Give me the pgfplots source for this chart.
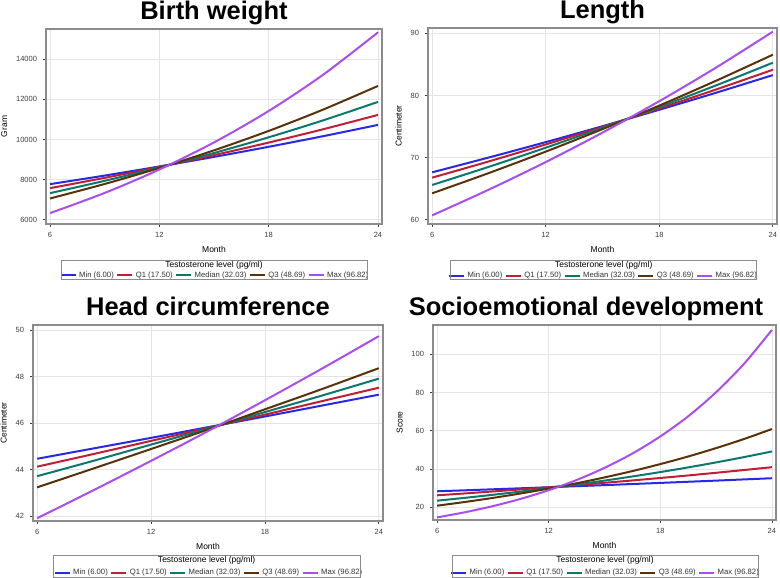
\documentclass[border=0pt]{standalone}
\usepackage{fontspec}
\setmainfont{Liberation Sans}
\usepackage{pgfplots}
\usepackage{pgfplotstable}
\pgfplotsset{compat=1.18}

\definecolor{cMin}{RGB}{40,40,232}
\definecolor{cQone}{RGB}{192,30,52}
\definecolor{cMed}{RGB}{10,120,108}
\definecolor{cQthree}{RGB}{90,50,10}
\definecolor{cMax}{RGB}{168,78,240}
\definecolor{frameGray}{RGB}{140,140,140}
\definecolor{gridGray}{RGB}{228,228,228}
\definecolor{tickGray}{RGB}{60,60,60}

\pgfplotstableread{
month min q1 med q3 max
6  7776  7577  7328  7062  6332
9  8204  8090  7942  7785  7338
12 8657  8638  8608  8582  8505
15 9134  9224  9329  9461  9857
18 9638  9848  10111 10429 11423
21 10169 10515 10959 11497 13238
24 10730 11228 11876 12672 15344
}\bw

\pgfplotstableread{
month min q1 med q3 max
6  67.63 66.77 65.59 64.25 60.70
9  70.02 69.39 68.52 67.52 64.85
12 72.49 72.12 71.59 70.96 69.28
15 75.05 74.95 74.79 74.58 74.02
18 77.70 77.90 78.13 78.37 79.08
21 80.44 80.96 81.62 82.37 84.49
24 83.28 84.14 85.27 86.56 90.27
}\len

\pgfplotstableread{
month min q1 med q3 max
6  44.46 44.12 43.71 43.23 41.90
9  44.91 44.67 44.38 44.05 43.12
12 45.36 45.23 45.07 44.88 44.37
15 45.82 45.79 45.76 45.72 45.65
18 46.28 46.36 46.47 46.59 46.98
21 46.75 46.94 47.18 47.46 48.34
24 47.22 47.52 47.91 48.36 49.74
}\head

\pgfplotstableread{
month min q1 med q3 max
6    28.25 26.14 23.33 20.70 14.56
7.5  28.76 27.13 24.82 22.65 17.27
9    29.29 28.16 26.41 24.78 20.48
10.5 29.82 29.23 28.10 27.11 24.29
12   30.37 30.34 29.90 29.66 28.81
13.5 30.92 31.49 31.82 32.45 34.16
15   31.48 32.69 33.85 35.51 40.52
16.5 32.06 33.93 36.02 38.84 48.05
18   32.64 35.22 38.32 42.50 57.00
19.5 33.24 36.55 40.77 46.49 67.57
21   33.84 37.95 43.38 50.88 80.18
22.5 34.47 39.39 46.16 55.64 95.05
24   35.09 40.88 49.12 60.88 112.80
}\soc

\pgfplotsset{
  panel/.style={
    anchor=south west,
    scale only axis,
    xmin=5.78, xmax=24.22,
    xtick={6,12,18,24},
    grid=major,
    grid style={color=gridGray, line width=0.7pt},
    axis line style={color=frameGray, line width=1.3pt},
    tick style={color=tickGray, line width=0.7pt},
    tick align=outside, tick pos=left,
    major tick length=3pt,
    /pgf/number format/assume math mode=true,
    /pgf/number format/1000 sep={},
    scaled ticks=false,
    ticklabel style={font=\fontsize{7.5}{9}\selectfont, color=tickGray},
    xticklabel style={yshift=-2pt},
    yticklabel style={xshift=-2.5pt},
    xlabel={Month},
    label style={font=\fontsize{8.5}{10}\selectfont},
    xlabel shift=2pt,
    ylabel shift=2pt,
    every axis title shift=0pt,
    title style={font=\fontsize{25.5}{28}\selectfont\bfseries, at={(0.5,1)}, anchor=base, yshift=9pt},
    every axis plot/.append style={line width=2pt, mark=none, smooth},
    legend columns=5,
    legend cell align=left,
    legend style={draw=none, fill=none, inner sep=0pt, anchor=center,
      font=\fontsize{7.7}{9}\selectfont, text=black!80, column sep=2.5pt,
      nodes={inner sep=0pt}},
    legend image code/.code={\draw[##1] (0pt,0pt) -- (15pt,0pt);},
  },
}

\newcommand{\series}[1]{%
  \addplot[cMin] table[x=month,y=min]{#1}; \addlegendentry{Min (6.00)}
  \addplot[cQone] table[x=month,y=q1]{#1}; \addlegendentry{Q1 (17.50)}
  \addplot[cMed] table[x=month,y=med]{#1}; \addlegendentry{Median (32.03)}
  \addplot[cQthree] table[x=month,y=q3]{#1}; \addlegendentry{Q3 (48.69)}
  \addplot[cMax] table[x=month,y=max]{#1}; \addlegendentry{Max (96.82)}
}

\newcommand{\legbox}[5]{%
  \draw[color=frameGray, line width=0.9pt] (#1pt,#3pt) rectangle (#2pt,#4pt);
  \node[font=\fontsize{8.5}{10}\selectfont, inner sep=0pt] at ({(#1+#2)/2*1pt},#5pt) {Testosterone level (pg/ml)};
}

\begin{document}
\begin{tikzpicture}
\path[use as bounding box] (0pt,0pt) rectangle (780pt,578pt);

\begin{axis}[panel, at={(46pt,354pt)}, width=336pt, height=195pt,
  ymin=5790, ymax=15510, ytick={6000,8000,10000,12000,14000},
  ylabel={Gram}, title={Birth weight},
  legend style={at={(0.5,-0.2641)}}]
\series{\bw}
\end{axis}
\legbox{61}{367}{299}{318}{312.3}

\begin{axis}[panel, at={(428pt,354pt)}, width=349pt, height=196pt,
  ymin=59.31, ymax=90.86, ytick={60,70,80,90},
  ylabel={Centimeter}, title={Length},
  legend style={at={(0.5,-0.2628)}}]
\series{\len}
\end{axis}
\legbox{450.7}{756.7}{299}{318}{312.3}

\begin{axis}[panel, at={(33pt,57pt)}, width=350pt, height=196pt,
  ymin=41.78, ymax=50.22, ytick={42,44,46,48,50},
  ylabel={Centimeter}, title={Head circumference},
  legend style={at={(0.5,-0.2638)}}]
\series{\head}
\end{axis}
\legbox{53.3}{360}{1}{22.3}{17.3}

\begin{axis}[panel, at={(433pt,58pt)}, width=343pt, height=195pt,
  ymin=13.2, ymax=115.4, ytick={20,40,60,80,100},
  ylabel={Score}, title={Socioemotional development},
  title style={xshift=-18.5pt},
  legend style={at={(0.5,-0.2703)}}]
\series{\soc}
\end{axis}
\legbox{452}{758}{1}{22.3}{17.3}

\end{tikzpicture}
\end{document}
